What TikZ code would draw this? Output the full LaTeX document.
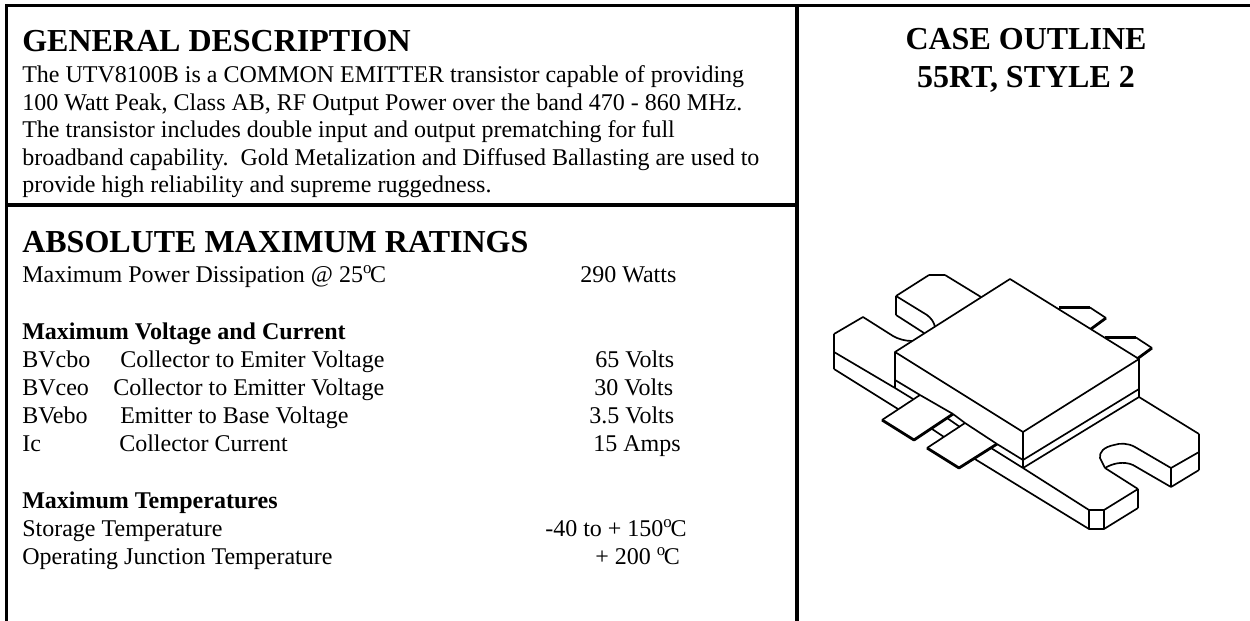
\documentclass[tikz,border=0pt]{standalone}
\usepackage{fontspec}
\setmainfont{Liberation Serif}
\newcommand{\degC}{\textsuperscript{o}\kern-.08em C}
\tikzset{
    heading/.style={anchor=base west, inner sep=0pt, font=\fontsize{24}{26}\selectfont\bfseries},
    caseheading/.style={anchor=base, inner sep=0pt, font=\fontsize{24}{26}\selectfont\bfseries},
    bodytext/.style={anchor=base west, inner sep=0pt, font=\fontsize{18}{20}\selectfont},
    subheading/.style={bodytext, font=\fontsize{18}{20}\selectfont\bfseries},
    frameline/.style={line width=2.5pt},
    thinedge/.style={line width=1.25pt, line join=round},
    thickedge/.style={line width=2.1pt, line join=round}
}
\begin{document}
\begin{tikzpicture}[x=.75pt,y=-.75pt]
        \useasboundingbox (0,0) rectangle (1250,621);
        % frame
        \coordinate (tl) at (6.5,5.5);
        \coordinate (tr) at (1250,5.5);
        \coordinate (bl) at (6.5,621);
        \coordinate (tm) at (797,5.5);
        \coordinate (bm) at (797,621);
        \coordinate (ml) at (6.5,205);
        \coordinate (mm) at (797,205);
        \draw[frameline] (tr) -- (tl) -- (bl);
        \draw[frameline] (tm) -- (bm);
        \draw[frameline] (ml) -- (mm);
        % left column
        \node[heading] (general) at (22,51) {GENERAL DESCRIPTION};
        \foreach \y/\t in {82.5/{The UTV8100B is a COMMON EMITTER transistor capable of providing},
                           110/{100 Watt Peak, Class AB, RF Output Power over the band 470 - 860 MHz.},
                           137.5/{The transistor includes double input and output prematching for full},
                           165/{broadband capability.\ \ Gold Metalization and Diffused Ballasting are used to},
                           192.5/{provide high reliability and supreme ruggedness.}} {
            \node[bodytext] (desc\y) at (22,\y) {\t};
        }
        \node[heading] (absolute) at (22,252) {ABSOLUTE MAXIMUM RATINGS};
        \node[bodytext] (dissipation) at (22,282) {Maximum Power Dissipation @ 25\degC};
        \node[bodytext] (watts) at (580,282) {290 Watts};
        \node[subheading] (voltcurrent) at (22,339.5) {Maximum Voltage and Current};
        \foreach \y/\n/\a/\xa/\t/\xv/\v in {367/cbo/BVcbo/120/{Collector to Emiter Voltage}/595/65 Volts,
                                             395/ceo/BVceo/113/{Collector to Emitter Voltage}/594/30 Volts,
                                             423/ebo/BVebo/120/{Emitter to Base Voltage}/589/3.5 Volts,
                                             451/ic/Ic/119/{Collector Current}/593/15 Amps} {
            \node[bodytext] (sym\n) at (22,\y) {\a};
            \node[bodytext] (name\n) at (\xa,\y) {\t};
            \node[bodytext] (val\n) at (\xv,\y) {\v};
        }
        \node[subheading] (temps) at (22,508) {Maximum Temperatures};
        \node[bodytext] (storage) at (22,536) {Storage Temperature};
        \node[bodytext] (storageval) at (545,536) {-40 to + 150\degC};
        \node[bodytext] (junction) at (22,564) {Operating Junction Temperature};
        \node[bodytext] (junctionval) at (595,564) {+ 200 \degC};
        % right column
        \node[caseheading] (case) at (1026,50) {CASE OUTLINE};
        \node[caseheading] (style) at (1026,87) {55RT, STYLE 2};
        % back tab
        \draw[thinedge] (924,333) -- (896,315);
        \draw[thinedge] (896,296) -- (929,275);
        \draw[thickedge] (929,275) -- (945,275);
        \draw[thinedge] (945,275) -- (981,297);
        \draw[thickedge] (896,296) -- (896,315);
        \draw[thinedge] (896,296) -- (927,315) .. controls (931,318) and (934,322) .. (935,327);
        % left flange
        \draw[thickedge] (834,334) -- (834,369);
        \draw[thinedge] (834,334) -- (863,317) -- (893,336) .. controls (898,339) and (905,341) .. (912,341);
        \draw[thinedge] (834,352) -- (895,388);
        \draw[thinedge] (834,369) -- (898,409);
        \draw[thinedge] (895,388) -- (913,399);
        \draw[thinedge] (895,380) -- (920,395);
        % right end of the flange
        \draw[thinedge] (1023,468) -- (1089,510);
        \draw[thinedge] (974,458.5) -- (1089,529);
        \draw[thickedge] (1089,510) -- (1104,510) -- (1104,529) -- (1089,529) -- cycle;
        \draw[thinedge] (1104,510) -- (1138,489);
        \draw[thinedge] (1104,529) -- (1138,508);
        \draw[thickedge] (1138,489) -- (1138,508);
        \draw[thinedge] (1138,489) -- (1105,468);
        \draw[thinedge] (1139,397) -- (1199,434);
        \draw[thickedge] (1199,434) -- (1199,470);
        \draw[thinedge] (1199,452) -- (1171,468);
        \draw[thinedge] (1199,470) -- (1171,487);
        \draw[thickedge] (1171,468) -- (1171,487);
        % slot
        \draw[thinedge] (1171,468) -- (1135,447) .. controls (1128,443) and (1120,443) .. (1114,445)
            .. controls (1104,447) and (1099,452) .. (1100,458) -- (1105,468);
        \draw[thinedge] (1105,468) .. controls (1113,463) and (1124,461) .. (1133,465) -- (1171,487);
        % body
        \draw[thinedge] (1010,279) -- (895,352) -- (1023,432) -- (1139,359) -- cycle;
        \draw[thickedge] (895,352) -- (895,388);
        \draw[thickedge] (1023,432) -- (1023,468);
        \draw[thickedge] (1139,359) -- (1139,397);
        \draw[thinedge] (1023,460) -- (1139,389);
        \draw[thinedge] (1023,468) -- (1139,397);
        \draw[thinedge] (997,444) -- (1023,460);
        \draw[thinedge] (991,448) -- (1023,468);
        % front tabs
        \draw[thinedge] (920,395) -- (953,414);
        \draw[thinedge] (920,395) -- (882,420);
        \draw[thickedge] (882,420) -- (914,440) -- (953,414);
        \draw[thinedge] (965,423) -- (997,444);
        \draw[thinedge] (965,423) -- (927,448);
        \draw[thickedge] (927,448) -- (959,468) -- (997,444);
        \draw[thinedge] (953,414) -- (965,423);
        \draw[thinedge] (947,418) -- (960,427);
        \draw[thinedge] (932,429) -- (944,437);
        % pins on the far side
        \draw[thickedge] (1059,307.5) -- (1090,307.5);
        \draw[thinedge] (1090,307.5) -- (1106,318);
        \draw[thickedge] (1106,318) -- (1091,329);
        \draw[thickedge] (1105,337.5) -- (1136,337.5);
        \draw[thinedge] (1136,337.5) -- (1152,348);
        \draw[thickedge] (1152,348) -- (1137,359);
\end{tikzpicture}
\end{document}
